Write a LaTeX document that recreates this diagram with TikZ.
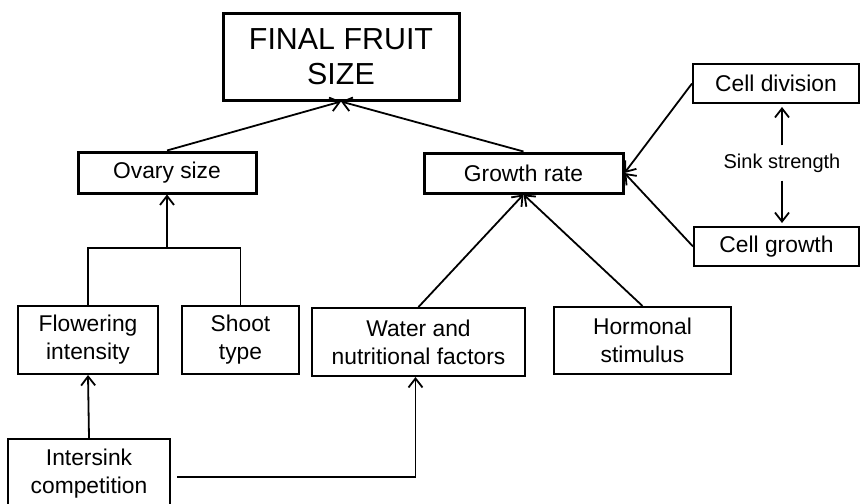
\documentclass[tikz,border=0pt]{standalone}
\usepackage{fontspec}
\setmainfont{Liberation Sans}
\usepackage{tikz}
\usetikzlibrary{arrows.meta, positioning}
\tikzset{box/.style={draw=black, line width=1pt, align=center, inner sep=0pt, font=\fontsize{11.4}{14}\selectfont},
    mainbox/.style={box, line width=1.5pt},
    link/.style={line width=.9pt, -{Straight Barb[length=4.5pt, width=7pt, line width=.9pt]}},
    plain/.style={line width=.9pt}}

\begin{document}
\begin{tikzpicture}[x=.5pt, y=-.5pt]
                 \useasboundingbox (0,0) rectangle (861,503);

                 \node[mainbox, minimum width=118pt, minimum height=43.5pt, font=\fontsize{15.2}{17.5}\selectfont] (final) at (341,56.5) {FINAL FRUIT\\SIZE};
                 \node[mainbox, minimum width=89pt, minimum height=20.5pt] (ovary) at (167,172.5) {Ovary size};
                 \node[mainbox, minimum width=99.5pt, minimum height=20pt] (growth) at (523.5,173) {Growth rate};

                 \node[box, minimum width=83pt, minimum height=19.5pt] (celldiv) at (776,83.5) {Cell division};
                 \node[box, minimum width=82.5pt, minimum height=19.5pt] (cellgrow) at (776.5,246.5) {Cell growth};
                 \node[font=\fontsize{10}{12}\selectfont, inner sep=4pt] (sink) at (782,163) {Sink strength};

                 \node[box, minimum width=70pt, minimum height=34pt] (flower) at (88,340) {Flowering\\intensity};
                 \node[box, minimum width=58.5pt, minimum height=34pt] (shoot) at (240.5,340) {Shoot\\type};
                 \node[box, minimum width=106.5pt, minimum height=34pt] (water) at (418.5,342) {Water and\\nutritional factors};
                 \node[box, minimum width=88.5pt, minimum height=33.5pt] (hormone) at (642.5,340.5) {Hormonal\\stimulus};
                 \node[box, minimum width=81pt, minimum height=35pt] (intersink) at (89,474) {Intersink\\competition};

                 \coordinate (fork) at (167,248);

                 % into the final size
                 \draw[link] (ovary.north) -- (final.south);
                 \draw[link] (growth.north) -- (final.south);

                 % sink strength side
                 \draw[link] (celldiv.west) -- (growth.east);
                 \draw[link] (cellgrow.west) -- (growth.east);
                 \draw[link] (sink.north) -- ([yshift=-1.5pt]sink.north |- celldiv.south);
                 \draw[link] (sink.south) -- ([yshift=1.5pt]sink.south |- cellgrow.north);

                 % ovary branch
                 \draw[plain] (flower.north) |- (fork) -| (shoot.north);
                 \draw[link] (fork) -- (ovary.south);
                 \draw[link] (intersink.north) -- (flower.south);

                 % growth branch
                 \draw[link] (water.north) -- (growth.south);
                 \draw[link] (hormone.north) -- (growth.south);
                 \draw[link] ([xshift=3pt, yshift=-1.5pt]intersink.east) -| ([xshift=-1.5pt]water.south);
             \end{tikzpicture}
\end{document}
